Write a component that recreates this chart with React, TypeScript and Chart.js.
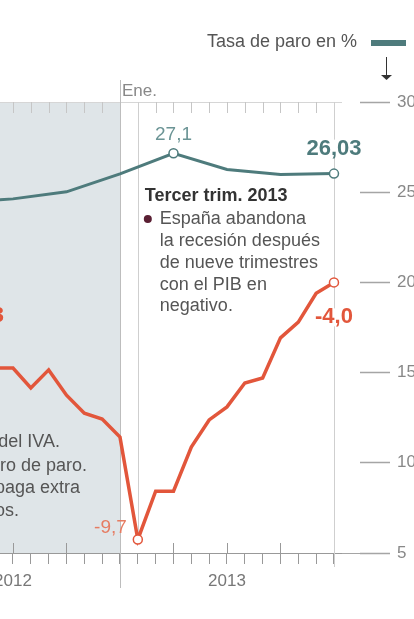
import React, { useEffect, useRef } from 'react';
import { Chart, registerables } from 'chart.js';

Chart.register(...registerables);

// ---------- data ----------
// x axis: months, 0 = 1 Jul 2012, 6 = 1 Jan 2013, 18 = 1 Jan 2014
const monthTicks = [0, 1, 2, 3, 4, 5, 6, 7, 8, 9, 10, 11, 12, 13, 14, 15, 16, 17, 18];
const majorTicks = [0, 3, 6, 9, 12, 15, 18];
const yearTickValues = [0, 12];
const yearTickLabels = ['2012', '2013'];

// Tasa de paro (%), quarterly, right axis
const paroMonths = [-3, 0, 3, 6, 9, 12, 15, 18];
const paroValues = [24.44, 24.63, 25.02, 26.02, 27.16, 26.26, 25.98, 26.03];
const paroMarked = [4, 7];
const paroLabels = ['27,1', '26,03'];

// Red series (monthly), hidden axis from -10 to 0
const ventasMonths = [-1, 0, 1, 2, 3, 4, 5, 6, 7, 8, 9, 10, 11, 12, 13, 14, 15, 16, 17, 18];
const ventasValues = [-5.9, -5.9, -6.34, -5.94, -6.5, -6.9, -7.03, -7.43, -9.7, -8.63, -8.63, -7.65, -7.05, -6.76, -6.23, -6.12, -5.23, -4.88, -4.24, -4.0];
const ventasMarked = [8, 19];
const ventasLabels = ['-9,7', '-4,0'];

const legendLabel = 'Tasa de paro en %';
const eneLabel = 'Ene.';
const noteTitle = 'Tercer trim. 2013';
const noteLines = ['España abandona', 'la recesión después', 'de nueve trimestres', 'con el PIB en', 'negativo.'];
const leftNoteLines = ['Subida del IVA.', 'Nuevo registro de paro.', 'Se suprime la paga extra', 'a los funcionarios.'];
const leftCutLabel = '-5,3';

// ---------- styles ----------
const FONT = "'Liberation Sans', Arial, Helvetica, sans-serif";
const TEAL = '#4e7b7c';
const RED = '#e2563b';
const SHADE = '#dfe5e8';
const X_MIN = -0.729;
const X_MAX = 18.45;

function txt(ctx: CanvasRenderingContext2D, s: string, x: number, y: number, size: number, color: string, align: CanvasTextAlign = 'left', bold = false) {
  ctx.save();
  ctx.font = `${bold ? 'bold ' : ''}${size}px ${FONT}`;
  ctx.fillStyle = color;
  ctx.textAlign = align;
  ctx.textBaseline = 'middle';
  ctx.fillText(s, x, y);
  ctx.restore();
}

function vline(ctx: CanvasRenderingContext2D, x: number, y1: number, y2: number, color: string, w = 1) {
  ctx.save();
  ctx.strokeStyle = color;
  ctx.lineWidth = w;
  ctx.beginPath();
  const xx = Math.round(x) + 0.5;
  ctx.moveTo(xx, y1);
  ctx.lineTo(xx, y2);
  ctx.stroke();
  ctx.restore();
}

function hline(ctx: CanvasRenderingContext2D, x1: number, x2: number, y: number, color: string, w = 1) {
  ctx.save();
  ctx.strokeStyle = color;
  ctx.lineWidth = w;
  ctx.beginPath();
  const yy = Math.round(y) + 0.5;
  ctx.moveTo(x1, yy);
  ctx.lineTo(x2, yy);
  ctx.stroke();
  ctx.restore();
}

function zeroPadding(s: any) {
  s.paddingLeft = 0;
  s.paddingRight = 0;
  s.paddingTop = 0;
  s.paddingBottom = 0;
}

const decor = {
  id: 'decor',
  beforeDraw(chart: any) {
    const { ctx, chartArea: a, scales } = chart;
    const xe = scales.x.getPixelForValue(6);
    ctx.save();
    ctx.fillStyle = SHADE;
    ctx.fillRect(a.left, a.top, xe - a.left, a.bottom - a.top);
    ctx.restore();
  },
  beforeDatasetsDraw(chart: any) {
    const { ctx, chartArea: a, scales } = chart;
    const x = scales.x;
    // top border + ticks
    hline(ctx, a.left, a.right, a.top, '#d6d6d6');
    monthTicks.forEach((m) => vline(ctx, x.getPixelForValue(m), a.top, a.top + 11, '#c6c6c6'));
    // major ticks above bottom axis
    majorTicks.forEach((m) => vline(ctx, x.getPixelForValue(m), a.bottom - 10, a.bottom, '#999'));
    // baseline extension to the "5" dash
    hline(ctx, a.right, a.right + 20, a.bottom, '#a5a5a5');
    // vertical marker lines
    vline(ctx, x.getPixelForValue(6), a.top - 22, a.bottom + 35, '#bdbdbd');
    const yLow = scales.y2.getPixelForValue(ventasValues[ventasMarked[0]]);
    vline(ctx, x.getPixelForValue(7), a.top, yLow - 5, '#cfcfcf');
    vline(ctx, x.getPixelForValue(18), a.top, a.bottom + 14, '#cfcfcf');
  },
  afterDatasetsDraw(chart: any) {
    const { ctx, scales } = chart;
    const x = scales.x;
    const y = scales.y;
    const y2 = scales.y2;

    // legend
    txt(ctx, legendLabel, 357, 42, 18, '#555', 'right');
    ctx.save();
    ctx.fillStyle = TEAL;
    ctx.fillRect(371, 40, 35, 6);
    ctx.restore();
    // arrow
    vline(ctx, 386, 57, 77, '#333');
    ctx.save();
    ctx.fillStyle = '#333';
    ctx.beginPath();
    ctx.moveTo(381, 75);
    ctx.lineTo(392, 75);
    ctx.lineTo(386.5, 80);
    ctx.closePath();
    ctx.fill();
    ctx.restore();

    // Ene.
    txt(ctx, eneLabel, x.getPixelForValue(6) + 2, 91, 17, '#888', 'left');

    // paro labels
    const p0 = paroMarked[0];
    txt(ctx, paroLabels[0], x.getPixelForValue(paroMonths[p0]), y.getPixelForValue(paroValues[p0]) - 18, 19, '#6b9495', 'center');
    const p1 = paroMarked[1];
    {
      const px = x.getPixelForValue(paroMonths[p1]);
      const py = y.getPixelForValue(paroValues[p1]) - 25;
      ctx.save();
      ctx.font = `bold 22px ${FONT}`;
      const w = ctx.measureText(paroLabels[1]).width;
      ctx.fillStyle = '#fff';
      ctx.fillRect(px - w / 2 - 2, py - 9, w + 4, 18);
      ctx.restore();
      txt(ctx, paroLabels[1], px, py, 22, TEAL, 'center', true);
    }

    // red labels
    const v0 = ventasMarked[0];
    txt(ctx, ventasLabels[0], x.getPixelForValue(ventasMonths[v0]) - 11, y2.getPixelForValue(ventasValues[v0]) - 12, 19, '#e67c62', 'right');
    const v1 = ventasMarked[1];
    {
      const px = x.getPixelForValue(ventasMonths[v1]);
      const py = y2.getPixelForValue(ventasValues[v1]) + 35;
      ctx.save();
      ctx.font = `bold 22px ${FONT}`;
      const w = ctx.measureText(ventasLabels[1]).width;
      ctx.fillStyle = '#fff';
      ctx.fillRect(px - w / 2 - 2, py - 9, w + 4, 18);
      ctx.restore();
      txt(ctx, ventasLabels[1], px, py, 22, RED, 'center', true);
    }
    txt(ctx, leftCutLabel, 4, 316, 22, RED, 'right', true);

    // note
    const nx = x.getPixelForValue(7) + 7;
    txt(ctx, noteTitle, nx, 196, 18, '#333', 'left', true);
    ctx.save();
    ctx.fillStyle = '#5a1f33';
    ctx.beginPath();
    ctx.arc(nx + 3, 219, 4, 0, Math.PI * 2);
    ctx.fill();
    ctx.restore();
    const lineYs = [219, 241, 263, 285, 306];
    noteLines.forEach((s, i) => txt(ctx, s, nx + 15, lineYs[i], 18, '#555', 'left'));

    // left (cut-off) note
    const leftEnds = [60, 87, 80, 19];
    const leftYs = [442, 466, 488, 511];
    leftNoteLines.forEach((s, i) => txt(ctx, s, leftEnds[i], leftYs[i], 18, '#555', 'right'));
  },
};

export default function App() {
  const ref = useRef<HTMLCanvasElement>(null);
  useEffect(() => {
    document.body.style.margin = '0';
    const canvas = ref.current!;
    const chart = new Chart(canvas, {
      type: 'line',
      data: {
        datasets: [
          {
            label: legendLabel,
            data: paroMonths.map((m, i) => ({ x: m, y: paroValues[i] })),
            yAxisID: 'y',
            borderColor: TEAL,
            borderWidth: 3,
            tension: 0,
            pointRadius: (c: any) => (paroMarked.includes(c.dataIndex) ? 4.5 : 0),
            pointBackgroundColor: '#fff',
            pointBorderColor: TEAL,
            pointBorderWidth: 1.5,
          },
          {
            label: 'PIB',
            data: ventasMonths.map((m, i) => ({ x: m, y: ventasValues[i] })),
            yAxisID: 'y2',
            borderColor: RED,
            borderWidth: 3.5,
            tension: 0,
            pointRadius: (c: any) => (ventasMarked.includes(c.dataIndex) ? 4.5 : 0),
            pointBackgroundColor: '#fff',
            pointBorderColor: RED,
            pointBorderWidth: 1.5,
          },
        ],
      },
      options: {
        responsive: false,
        animation: false,
        devicePixelRatio: 1,
        layout: { padding: { top: 102, left: 0, right: 0, bottom: 0 }, autoPadding: false } as any,
        plugins: { legend: { display: false }, tooltip: { enabled: false } },
        scales: {
          x: {
            type: 'linear',
            position: 'bottom',
            min: X_MIN,
            max: X_MAX,
            afterBuildTicks: (s: any) => {
              s.ticks = monthTicks.map((v) => ({ value: v }));
            },
            afterFit: (s: any) => {
              s.height = 66;
              zeroPadding(s);
            },
            grid: { drawOnChartArea: false, drawTicks: true, tickLength: 11, tickColor: '#999', tickWidth: 1 },
            border: { display: true, color: '#999', width: 1 },
            ticks: {
              autoSkip: false,
              maxRotation: 0,
              padding: 7,
              color: '#777',
              font: { family: FONT, size: 17 },
              callback: (v: any) => {
                const i = yearTickValues.indexOf(Number(v));
                return i >= 0 ? yearTickLabels[i] : '';
              },
            },
          },
          y: {
            type: 'linear',
            position: 'right',
            min: 5,
            max: 30,
            afterFit: (s: any) => {
              s.width = 72;
              zeroPadding(s);
            },
            grid: {
              drawOnChartArea: false,
              drawTicks: true,
              tickLength: 48,
              tickBorderDash: [0, 18, 30, 100],
              tickColor: '#a5a5a5',
              tickWidth: 1.5,
            },
            border: { display: false },
            ticks: { stepSize: 5, padding: 7, color: '#888', font: { family: FONT, size: 17 } },
          },
          y2: { type: 'linear', display: false, min: -10, max: 0 },
        },
      } as any,
      plugins: [decor],
    });
    return () => chart.destroy();
  }, []);
  return (
    <div style={{ position: 'absolute', left: 0, top: 0, width: 414, height: 619 }}>
      <canvas ref={ref} width={414} height={619} style={{ display: 'block' }} />
    </div>
  );
}
